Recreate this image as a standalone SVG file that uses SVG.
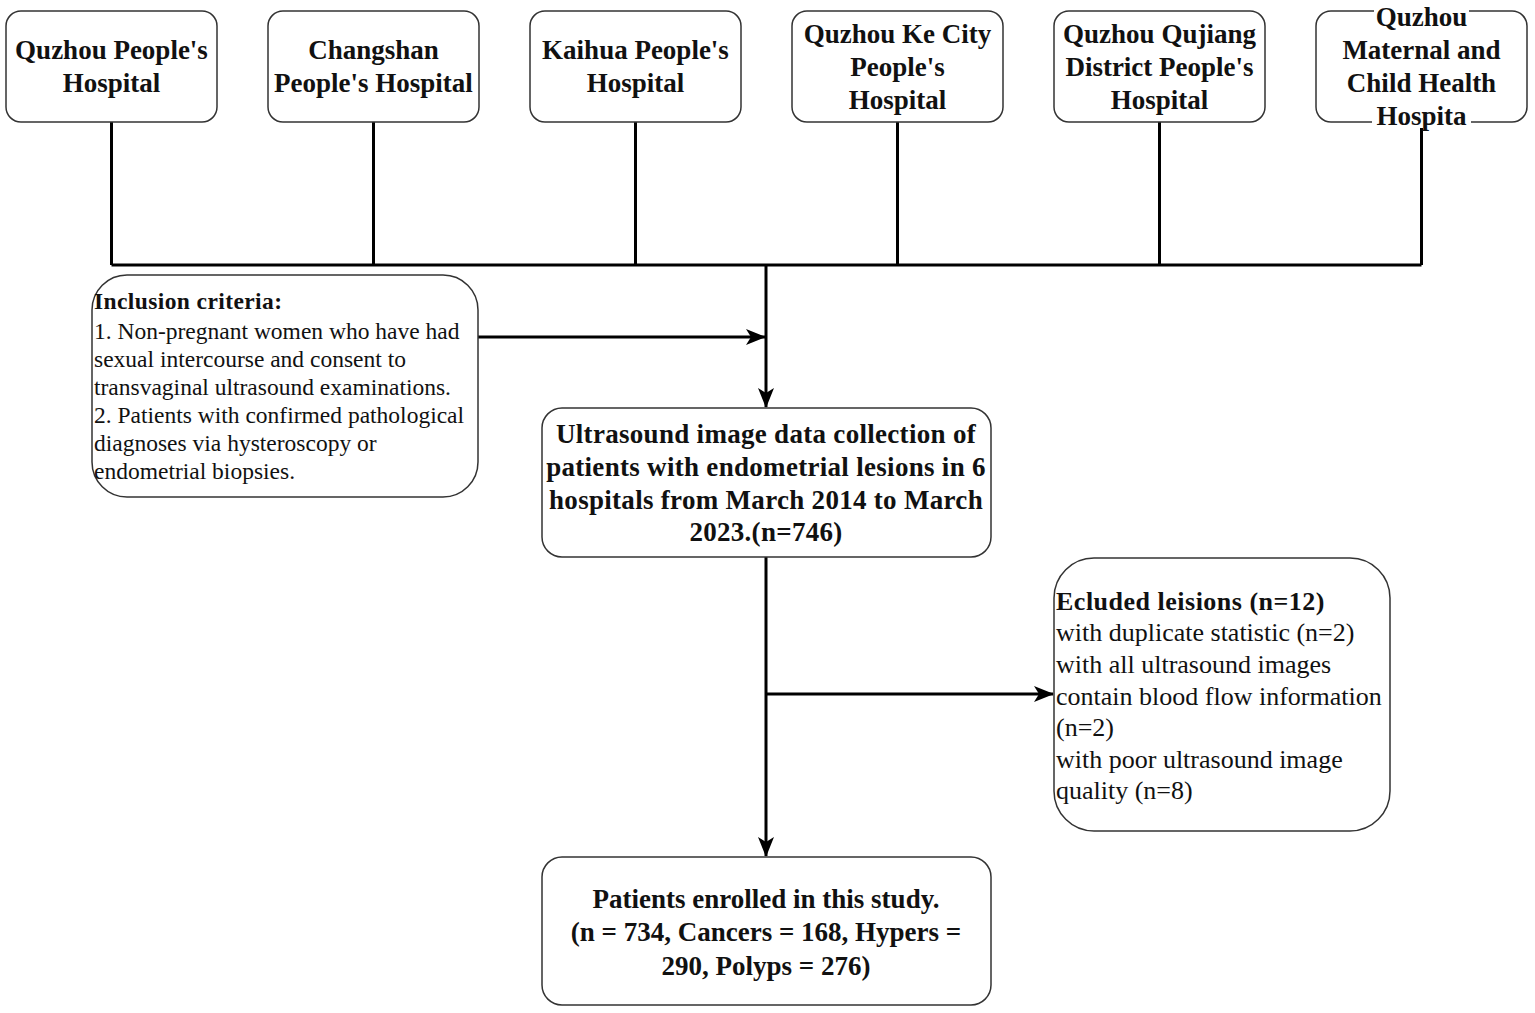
<svg xmlns="http://www.w3.org/2000/svg" width="1535" height="1013" viewBox="0 0 1535 1013">
<defs>
<marker id="arr" viewBox="0 0 20 16" refX="19" refY="8" markerWidth="20" markerHeight="16" markerUnits="userSpaceOnUse" orient="auto">
<path d="M0,0 L20,8 L0,16 L5,8 Z" fill="#000"/>
</marker>
<style>
.box{fill:#fff;stroke:#333;stroke-width:1.5}
.hd{font-family:"Liberation Serif",serif;font-weight:bold;font-size:27px;fill:#111;text-anchor:middle}
.tx{font-family:"Liberation Serif",serif;font-size:23.5px;fill:#111}
.tb{font-family:"Liberation Serif",serif;font-size:26px;fill:#111}
.ln{fill:none;stroke:#000;stroke-width:3}
</style>
</defs>
<rect width="1535" height="1013" fill="#fff"/>
<g id="connectors">
<path class="ln" d="M111.5,122 V265 M373.5,122 V265 M635.5,122 V265 M897.5,122 V265 M1159.5,122 V265 M1421.5,122 V265 M111.5,265 H1421.5"/>
<path class="ln" d="M766,265 V407" marker-end="url(#arr)"/>
<path class="ln" d="M478,337 H765" marker-end="url(#arr)"/>
<path class="ln" d="M766,557 V856" marker-end="url(#arr)"/>
<path class="ln" d="M766,694 H1053" marker-end="url(#arr)"/>
</g>
<g id="h1"><rect class="box" x="6" y="11" width="211" height="111" rx="15"/>
<text class="hd" x="111.5" y="59">Quzhou People's</text><text class="hd" x="111.5" y="92">Hospital</text></g>
<g id="h2"><rect class="box" x="268" y="11" width="211" height="111" rx="15"/>
<text class="hd" x="373.5" y="59">Changshan</text><text class="hd" x="373.5" y="92">People's Hospital</text></g>
<g id="h3"><rect class="box" x="530" y="11" width="211" height="111" rx="15"/>
<text class="hd" x="635.5" y="59">Kaihua People's</text><text class="hd" x="635.5" y="92">Hospital</text></g>
<g id="h4"><rect class="box" x="792" y="11" width="211" height="111" rx="15"/>
<text class="hd" x="897.5" y="43">Quzhou Ke City</text><text class="hd" x="897.5" y="76">People's</text><text class="hd" x="897.5" y="109">Hospital</text></g>
<g id="h5"><rect class="box" x="1054" y="11" width="211" height="111" rx="15"/>
<text class="hd" x="1159.5" y="43">Quzhou Qujiang</text><text class="hd" x="1159.5" y="76">District People's</text><text class="hd" x="1159.5" y="109">Hospital</text></g>
<g id="h6"><rect class="box" x="1316" y="11" width="211" height="111" rx="15"/>
<rect x="1374" y="4" width="95" height="14" fill="#fff"/>
<rect x="1372" y="116" width="99" height="12" fill="#fff"/>
<text class="hd" x="1421.5" y="26">Quzhou</text><text class="hd" x="1421.5" y="59">Maternal and</text><text class="hd" x="1421.5" y="92">Child Health</text><text class="hd" x="1421.5" y="125">Hospita</text></g>
<g id="inclusion"><rect class="box" x="92" y="275" width="386" height="222" rx="35"/>
<text class="tx" x="94" y="309" font-weight="bold" font-size="27" letter-spacing="0.4">Inclusion criteria:</text>
<text class="tx" x="94" y="339">1. Non-pregnant women who have had</text>
<text class="tx" x="94" y="367">sexual intercourse and consent to</text>
<text class="tx" x="94" y="395">transvaginal ultrasound examinations.</text>
<text class="tx" x="94" y="423">2. Patients with confirmed pathological</text>
<text class="tx" x="94" y="451">diagnoses via hysteroscopy or</text>
<text class="tx" x="94" y="479">endometrial biopsies.</text></g>
<g id="collection"><rect class="box" x="542" y="408" width="449" height="149" rx="20"/>
<text class="hd" x="766" y="443" letter-spacing="0.3">Ultrasound image data collection of</text>
<text class="hd" x="766" y="476" letter-spacing="0.3">patients with endometrial lesions in 6</text>
<text class="hd" x="766" y="509" letter-spacing="0.3">hospitals from March 2014 to March</text>
<text class="hd" x="766" y="541" letter-spacing="0.3">2023.(n=746)</text></g>
<g id="excluded"><rect class="box" x="1054" y="558" width="336" height="273" rx="40"/>
<text class="tb" x="1056" y="610" font-weight="bold" letter-spacing="0.5">Ecluded leisions (n=12)</text>
<text class="tb" x="1056" y="641">with duplicate statistic (n=2)</text>
<text class="tb" x="1056" y="673">with all ultrasound images</text>
<text class="tb" x="1056" y="705">contain blood flow information</text>
<text class="tb" x="1056" y="736">(n=2)</text>
<text class="tb" x="1056" y="768">with poor ultrasound image</text>
<text class="tb" x="1056" y="799">quality (n=8)</text></g>
<g id="enrolled"><rect class="box" x="542" y="857" width="449" height="148" rx="20"/>
<text class="hd" x="766" y="908">Patients enrolled in this study.</text>
<text class="hd" x="766" y="941">(n = 734, Cancers = 168, Hypers =</text>
<text class="hd" x="766" y="975">290, Polyps = 276)</text></g>
</svg>
